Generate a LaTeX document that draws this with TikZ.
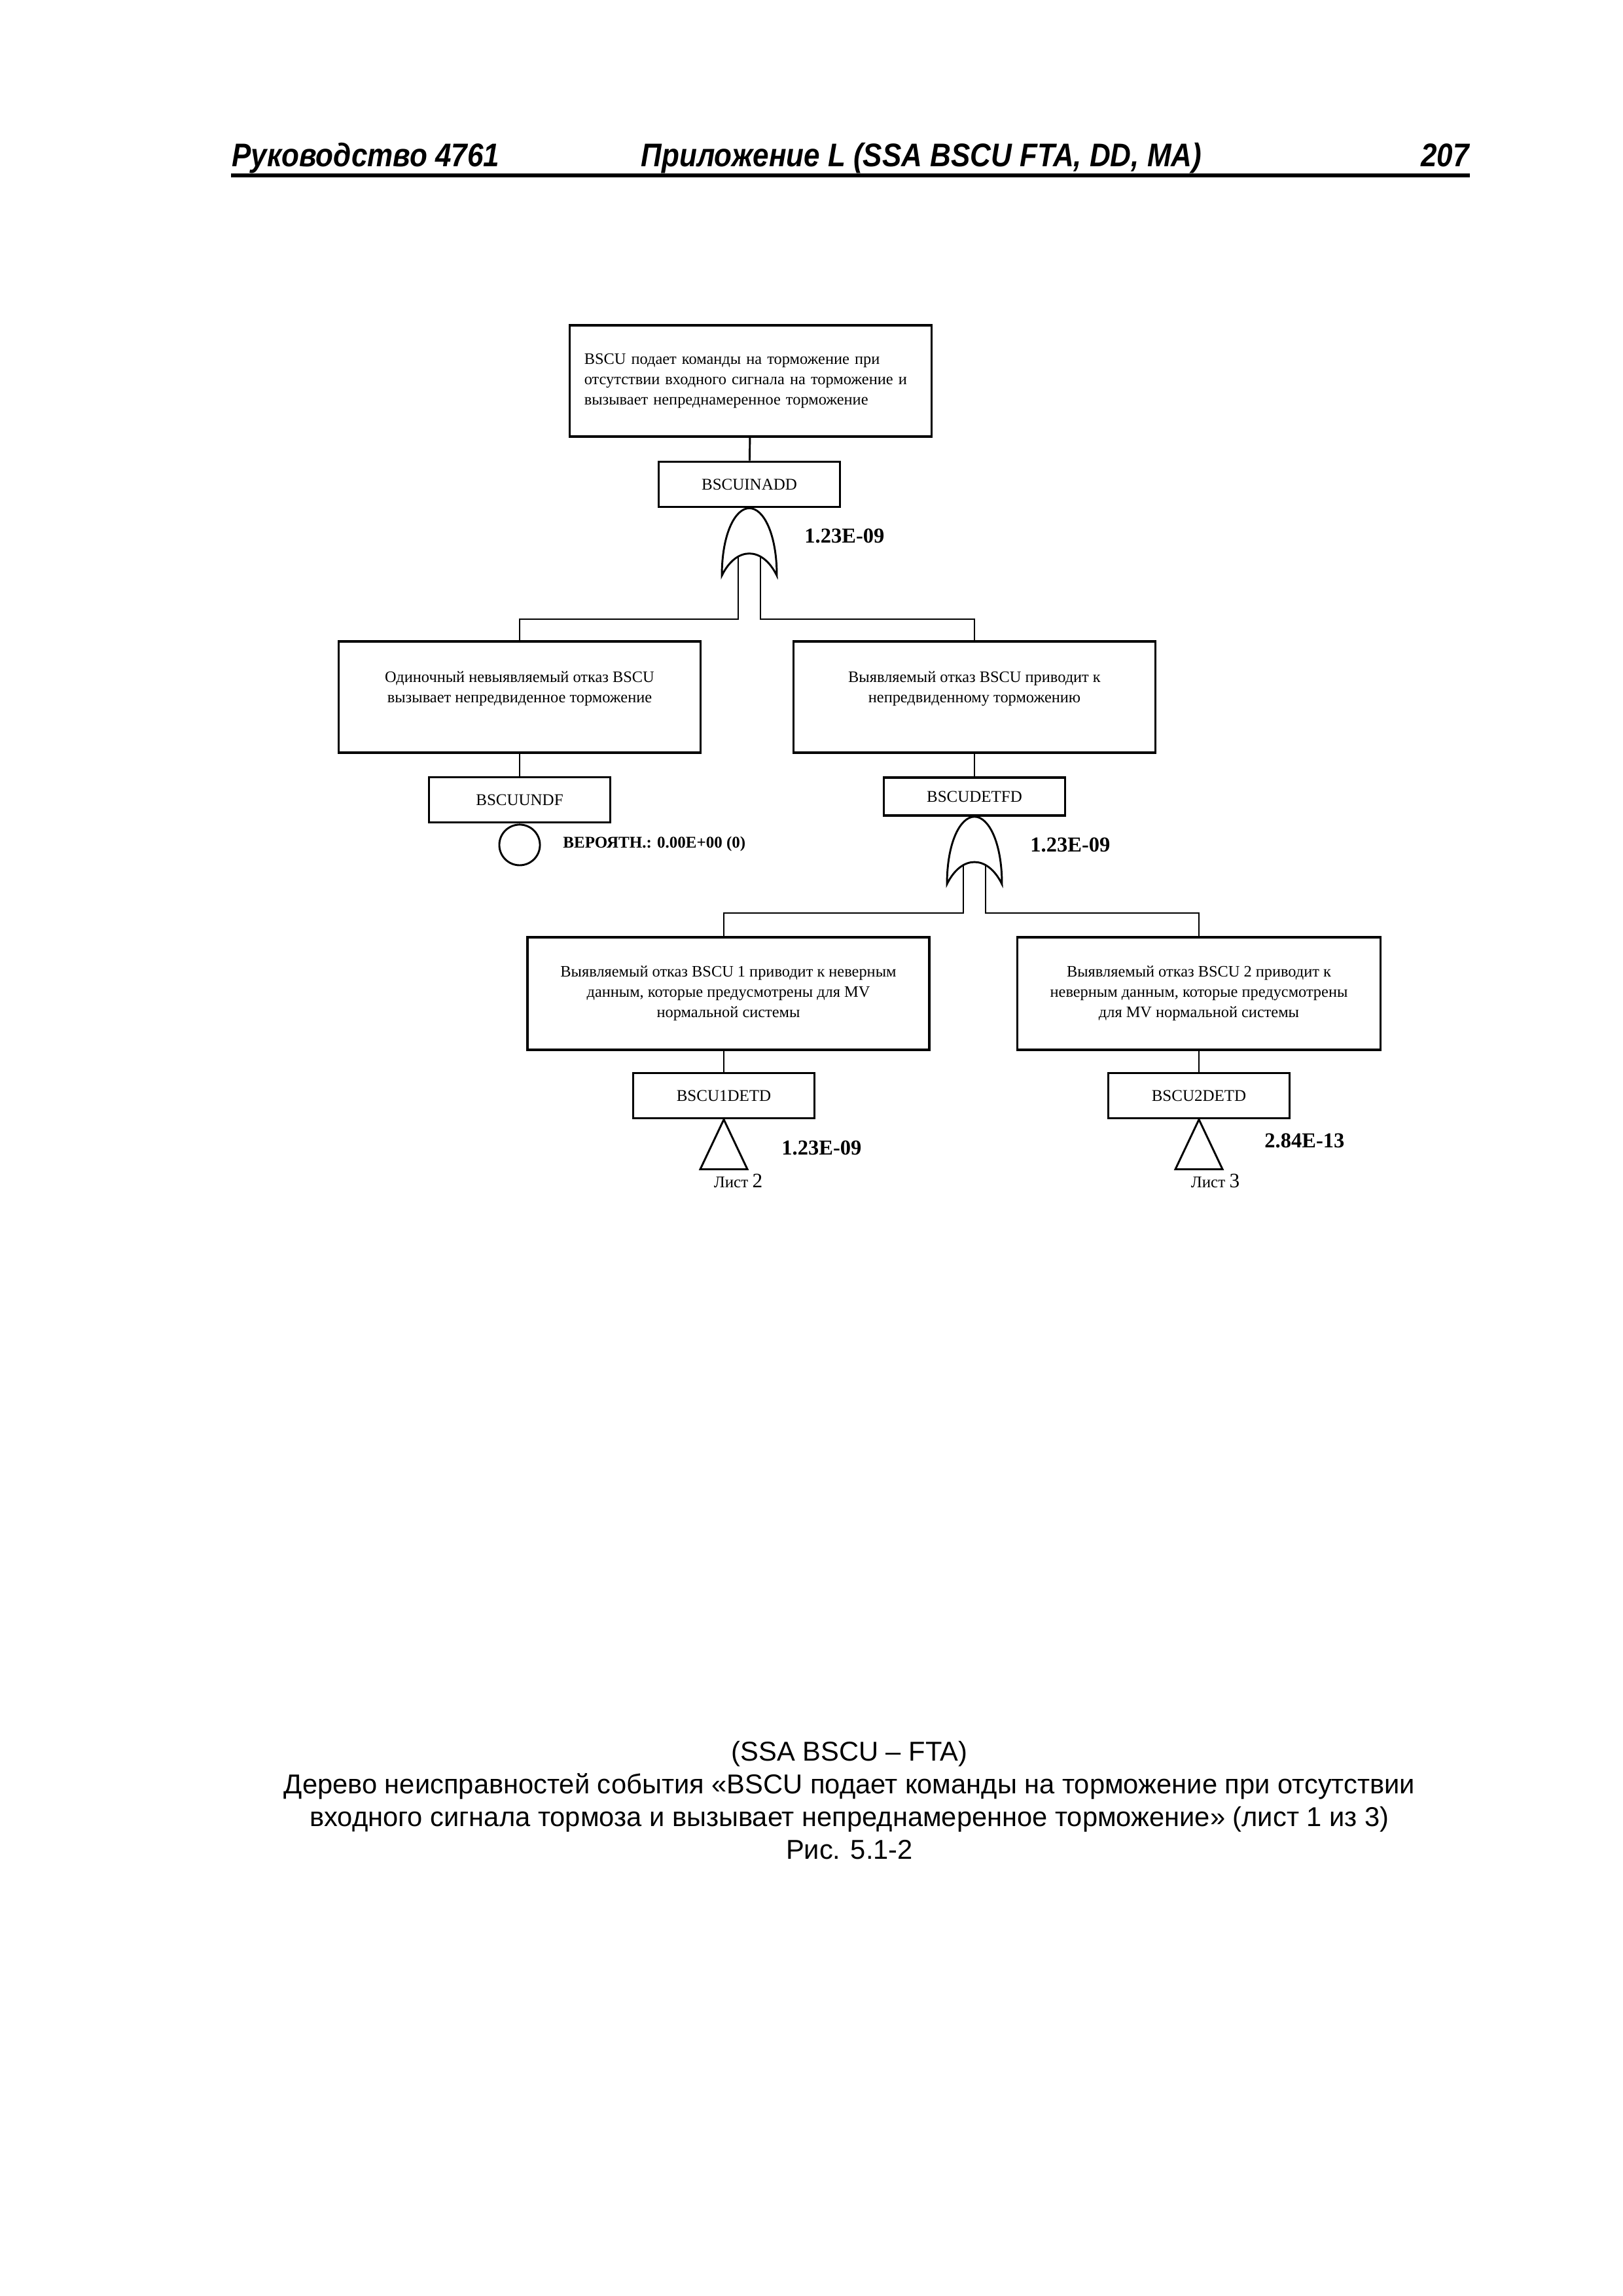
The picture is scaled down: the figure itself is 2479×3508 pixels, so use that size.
\documentclass[tikz,border=0pt]{standalone}
\usepackage{fontspec}
\setmainfont{Liberation Serif}
\newfontfamily\arial{Liberation Sans}
\newfontfamily\arialhead[FakeStretch=0.88]{Liberation Sans}

\begin{document}
\begin{tikzpicture}
  [x=0.24pt,y=-0.24pt,line width=0.7pt,
   every node/.style={inner sep=0pt},
   event/.style={draw,line width=0.9pt,minimum width=132.7pt,minimum height=40.8pt,
     align=center,font=\fontsize{5.85}{7.4}\selectfont},
   ident/.style={draw,line width=0.9pt,minimum width=66.5pt,minimum height=16.6pt,
     font=\fontsize{6}{7.4}\selectfont},
   prob/.style={anchor=west,font=\fontsize{7.8}{9}\selectfont\bfseries},
   header/.style={font=\arialhead\bfseries\itshape\fontsize{12}{14}\selectfont},
   pics/orgate/.style={code={
     \draw[fill=white] (-42,103) .. controls (-42,40) and (-22,0) .. (0,0)
       .. controls (22,0) and (42,40) .. (42,103)
       .. controls (20,58) and (-20,58) .. cycle;
     \coordinate (-l) at (-17,74);
     \coordinate (-r) at (17,74);}},
   pics/transfer/.style={code={
     \draw (0,0) -- (-36,76) -- (36,76) -- cycle;}}]
  \useasboundingbox (0,0) rectangle (2479,3508);

  % page header
  \node[header,anchor=base west] (hl) at (353,255) {Руководство 4761};
  \node[header,anchor=base] (hm) at (1408,255) {Приложение L (SSA BSCU FTA, DD, MA)};
  \node[header,anchor=base east] (hr) at (2246,255) {207};
  \draw[line width=1.4pt] (353,268) -- (2246,268);

  % top event
  \node[event,align=left,text width=122pt] (top) at (1147,582)
    {BSCU подает команды на торможение при\\
     отсутствии входного сигнала на торможение и\\
     вызывает непреднамеренное торможение};
  \node[ident] (inadd) at (1145,740) {BSCUINADD};
  \draw (top) -- (inadd);
  \pic (g1) at (inadd.south) {orgate};
  \node[prob] (p1) at (1228,819) {1.23E-09};

  % first level
  \coordinate (bus1) at (0,946);
  \node[event] (undet) at (794,1065)
    {Одиночный невыявляемый отказ BSCU\\вызывает непредвиденное торможение\\~};
  \node[event] (det) at (1489,1065)
    {Выявляемый отказ BSCU приводит к\\непредвиденному торможению\\~};
  \draw (g1-l) -- (g1-l |- bus1) -| (undet.north);
  \draw (g1-r) -- (g1-r |- bus1) -| (det.north);

  \node[ident] (undf) at (794,1222) {BSCUUNDF};
  \draw (undet) -- (undf);
  \node[circle,draw,minimum size=14.9pt,anchor=north] (basic) at (undf.south) {};
  \node[anchor=west,font=\fontsize{6}{7}\selectfont\bfseries] (pb) at (859,1289) {ВЕРОЯТН.: 0.00E+00 (0)};

  \node[ident,minimum height=13.9pt] (detfd) at (1489,1217) {BSCUDETFD};
  \draw (det) -- (detfd);
  \pic (g2) at (detfd.south) {orgate};
  \node[prob] (p2) at (1573,1291) {1.23E-09};

  % second level
  \coordinate (bus2) at (0,1395);
  \node[event,minimum width=147.4pt,minimum height=41.3pt] (bscu1) at (1113,1518)
    {Выявляемый отказ BSCU 1 приводит к неверным\\данным, которые предусмотрены для MV\\нормальной системы};
  \node[event,minimum width=133.2pt,minimum height=41.3pt] (bscu2) at (1832,1518)
    {Выявляемый отказ BSCU 2 приводит к\\неверным данным, которые предусмотрены\\для MV нормальной системы};
  \node[ident] (d1) at (1106,1674) {BSCU1DETD};
  \node[ident] (d2) at (1832,1674) {BSCU2DETD};
  \draw (g2-l) -- (g2-l |- bus2) -| (d1 |- bscu1.north);
  \draw (g2-r) -- (g2-r |- bus2) -| (bscu2.north);
  \draw (d1 |- bscu1.south) -- (d1);
  \draw (bscu2) -- (d2);

  \pic (t1) at (d1.south) {transfer};
  \pic (t2) at (d2.south) {transfer};
  \node[prob] (p3) at (1193,1754) {1.23E-09};
  \node[prob] (p4) at (1931,1743) {2.84E-13};
  \node[anchor=base,font=\fontsize{6}{7}\selectfont] (s2) at (1128,1814) {Лист {\fontsize{7.5}{8}\selectfont 2}};
  \node[anchor=base,font=\fontsize{6}{7}\selectfont] (s3) at (1857,1814) {Лист {\fontsize{7.5}{8}\selectfont 3}};

  % caption
  \node[align=center,font=\arial\fontsize{10}{12}\selectfont] (cap) at (1298,2751)
    {(SSA BSCU – FTA)\\
     Дерево неисправностей события «BSCU подает команды на торможение при отсутствии\\
     входного сигнала тормоза и вызывает непреднамеренное торможение» (лист 1 из 3)\\
     Рис. 5.1-2};
\end{tikzpicture}
\end{document}
